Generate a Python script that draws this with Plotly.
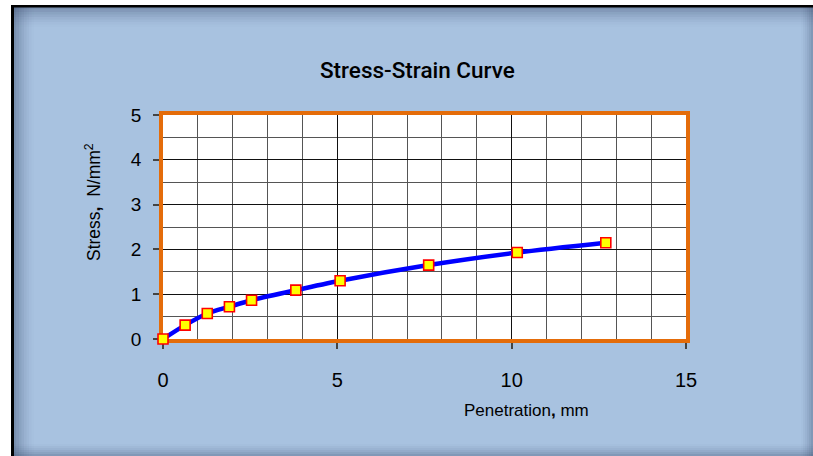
import plotly.graph_objects as go

# Penetration (mm) and stress (N/mm^2) readings
penetration = [0.0, 0.635, 1.27, 1.905, 2.54, 3.81, 5.08, 7.62, 10.16, 12.7]
stress = [0.0, 0.31, 0.57, 0.72, 0.865, 1.09, 1.30, 1.65, 1.93, 2.15]

x_ticks = [0, 5, 10, 15]
y_ticks = [0, 1, 2, 3, 4, 5]

W, H = 813, 456
L, R, T, B = 163, 686, 115, 339  # plot area in pixels


def px(x):
    return (x - L) / (R - L)


def py(y):
    return (B - y) / (B - T)


BG = "#A8C2E0"
ORANGE = "#E46C0A"

fig = go.Figure()
fig.add_trace(go.Scatter(
    x=penetration, y=stress,
    mode="lines+markers",
    line=dict(color="#0000FF", width=4.5, shape="spline", smoothing=0.8),
    marker=dict(symbol="square", size=10, color="#FFFF00",
                line=dict(color="#FF0000", width=1.6)),
    cliponaxis=False,
    showlegend=False,
))

shapes = []
# white margin to the left and above the framed panel
shapes.append(dict(type="rect", xref="paper", yref="paper", x0=px(-5), x1=px(11),
                   y0=py(-5), y1=py(H + 5), fillcolor="white", line_width=0, layer="below"))
shapes.append(dict(type="rect", xref="paper", yref="paper", x0=px(-5), x1=px(W + 5),
                   y0=py(-5), y1=py(5), fillcolor="white", line_width=0, layer="below"))

# soft inner shadow along the panel edges
steps = 8
for i in range(steps):
    a = 0.36 * (1 - i / steps) ** 1.6
    c = f"rgba(40,55,90,{a:.3f})"
    # top
    shapes.append(dict(type="rect", xref="paper", yref="paper", x0=px(14), x1=px(W + 5),
                       y0=py(7 + i * 2.5), y1=py(7 + (i + 1) * 2.5),
                       fillcolor=c, line_width=0, layer="below"))
    # left
    shapes.append(dict(type="rect", xref="paper", yref="paper", x0=px(14 + i * 2.5),
                       x1=px(14 + (i + 1) * 2.5), y0=py(7), y1=py(H + 5),
                       fillcolor=c, line_width=0, layer="below"))
for i in range(6):
    a = 0.3 * (1 - i / 6) ** 1.5
    c = f"rgba(40,55,90,{a:.3f})"
    # right
    shapes.append(dict(type="rect", xref="paper", yref="paper", x0=px(W - (i + 1) * 2),
                       x1=px(W - i * 2), y0=py(7), y1=py(H + 5),
                       fillcolor=c, line_width=0, layer="below"))
    # bottom
    shapes.append(dict(type="rect", xref="paper", yref="paper", x0=px(14), x1=px(W + 5),
                       y0=py(H - i * 2), y1=py(H - (i + 1) * 2),
                       fillcolor=c, line_width=0, layer="below"))

# black frame on the left and top edges
shapes.append(dict(type="rect", xref="paper", yref="paper", x0=px(11), x1=px(14),
                   y0=py(5), y1=py(H + 5), fillcolor="black", line_width=0, layer="below"))
shapes.append(dict(type="rect", xref="paper", yref="paper", x0=px(11), x1=px(W + 5),
                   y0=py(5), y1=py(7.5), fillcolor="black", line_width=0, layer="below"))

annotations = [
    dict(text="Stress-Strain Curve", xref="paper", yref="paper",
         x=px(417), y=py(70), showarrow=False, xanchor="center", yanchor="middle",
         font=dict(family="Roboto", size=22.5, color="black", weight=500)),
    dict(text="Stress<b>,</b>  N/mm<sup>2</sup>", xref="paper", yref="paper",
         x=px(93), y=py(202), showarrow=False, textangle=-90,
         xanchor="center", yanchor="middle",
         font=dict(family="Liberation Sans", size=17.5, color="black")),
    dict(text="Penetration<b>,</b> mm", xref="paper", yref="paper",
         x=px(526), y=py(410), showarrow=False, xanchor="center", yanchor="middle",
         font=dict(family="Liberation Sans", size=17, color="black")),
]

fig.update_layout(
    width=W, height=H,
    margin=dict(l=L, r=W - R, t=T, b=H - B, pad=0),
    paper_bgcolor=BG,
    plot_bgcolor="white",
    shapes=shapes,
    annotations=annotations,
    xaxis=dict(
        range=[0, 15], tickvals=x_ticks, ticktext=[str(v) for v in x_ticks],
        showgrid=True, gridcolor="#111111", gridwidth=1,
        minor=dict(dtick=1, showgrid=True, gridcolor="#555555", gridwidth=1),
        ticks="outside", ticklen=6, tickcolor="#444444", tickwidth=1.5,
        ticklabelstandoff=14,
        tickfont=dict(family="Liberation Sans", size=20, color="black"),
        showline=True, linecolor=ORANGE, linewidth=3.5, mirror=True,
        zeroline=False, layer="below traces", fixedrange=True,
    ),
    yaxis=dict(
        range=[0, 5], tickvals=y_ticks, ticktext=[str(v) for v in y_ticks],
        showgrid=True, gridcolor="#111111", gridwidth=1,
        minor=dict(dtick=0.5, showgrid=True, gridcolor="#555555", gridwidth=1),
        ticks="outside", ticklen=6, tickcolor="#444444", tickwidth=1.5,
        ticklabelstandoff=8,
        tickfont=dict(family="Liberation Sans", size=19, color="black"),
        showline=True, linecolor=ORANGE, linewidth=3.5, mirror=True,
        zeroline=False, layer="below traces", fixedrange=True,
    ),
)

fig.write_html("out.html")
